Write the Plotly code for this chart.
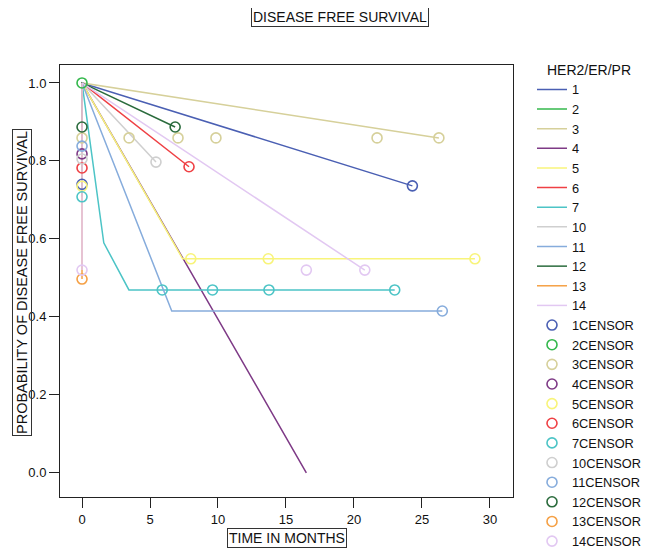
import plotly.graph_objects as go

groups = ["1", "2", "3", "4", "5", "6", "7", "10", "11", "12", "13", "14"]
colors = ["#4a5fb3", "#34b84c", "#d6d09a", "#7e3a86", "#f8f47a", "#ef4044",
          "#4cc4c6", "#cfcfcf", "#86acdc", "#2a6b3c", "#f5a045", "#e2c8f2"]

# survival lines (x = months, y = probability)
line_x = {
    "1": [0, 0, 24.3],
    "2": [0],
    "3": [0, 0, 26.25],
    "4": [0, 0, 16.5],
    "5": [0, 0, 7.4, 28.9],
    "6": [0, 0, 7.87],
    "7": [0, 0, 1.6, 3.45, 23.0],
    "10": [0, 0, 5.44],
    "11": [0, 0, 6.6, 26.5],
    "12": [0, 0, 6.85],
    "13": [0, 0],
    "14": [0, 0, 20.8],
}
line_y = {
    "1": [0.736, 1.0, 0.736],
    "2": [1.0],
    "3": [0.859, 1.0, 0.859],
    "4": [0.818, 1.0, 0.0],
    "5": [0.735, 1.0, 0.549, 0.549],
    "6": [0.782, 1.0, 0.785],
    "7": [0.708, 1.0, 0.59, 0.469, 0.469],
    "10": [0.805, 1.0, 0.797],
    "11": [0.838, 1.0, 0.415, 0.415],
    "12": [0.887, 1.0, 0.887],
    "13": [0.497, 1.0],
    "14": [0.52, 1.0, 0.52],
}

# censored observations
cens_x = {
    "1": [0, 24.3],
    "2": [0],
    "3": [0, 3.46, 7.06, 9.85, 21.7, 26.25],
    "4": [0],
    "5": [0, 8.0, 13.7, 28.9],
    "6": [0, 7.87],
    "7": [0, 5.9, 9.6, 13.75, 23.0],
    "10": [0, 5.44],
    "11": [0, 26.5],
    "12": [0, 6.85],
    "13": [0],
    "14": [0, 16.5, 20.8],
}
cens_y = {
    "1": [0.74, 0.736],
    "2": [1.0],
    "3": [0.859, 0.859, 0.859, 0.859, 0.859, 0.859],
    "4": [0.818],
    "5": [0.735, 0.549, 0.549, 0.549],
    "6": [0.782, 0.785],
    "7": [0.708, 0.469, 0.469, 0.469, 0.469],
    "10": [0.805, 0.797],
    "11": [0.838, 0.415],
    "12": [0.887, 0.887],
    "13": [0.497],
    "14": [0.52, 0.52, 0.52],
}

x_ticks = [0, 5, 10, 15, 20, 25, 30]
y_ticks = [0.0, 0.2, 0.4, 0.6, 0.8, 1.0]

FONT = "Liberation Sans, Arial, sans-serif"

fig = go.Figure()
for g, c in zip(groups, colors):
    fig.add_trace(go.Scatter(
        x=line_x[g], y=line_y[g], mode="lines", name=g,
        line=dict(color=c, width=1.5), legendgroup="lines",
    ))
for g, c in zip(groups, colors):
    fig.add_trace(go.Scatter(
        x=cens_x[g], y=cens_y[g], mode="markers", name=g + "CENSOR",
        marker=dict(symbol="circle-open", size=10, color=c, line=dict(width=1.6, color=c)),
        legendgroup="cens",
    ))

# page body adds an 8px offset; plot area on screen: x 60..513, y 65..497
PW, PH = 453.0, 432.0
fig.update_layout(
    width=650, height=544,
    margin=dict(l=52, r=145, t=57, b=55, autoexpand=False),
    paper_bgcolor="white", plot_bgcolor="white",
    font=dict(family=FONT, size=13, color="#111111"),
    showlegend=True,
    legend=dict(
        x=1 + (532 - 513) / PW, y=1.02, xanchor="left", yanchor="top",
        title=dict(text="HER2/ER/PR", font=dict(size=14), side="top center"),
        tracegroupgap=0, itemwidth=30, maxheight=1.0,
        font=dict(size=12.8), bgcolor="rgba(0,0,0,0)",
    ),
    annotations=[
        dict(text="DISEASE FREE SURVIVAL", x=(340 - 60) / PW, y=1 + (65 - 17) / PH,
             xref="paper", yref="paper", xanchor="center", yanchor="middle",
             showarrow=False, bordercolor="#333333", borderwidth=1, borderpad=1,
             font=dict(size=14)),
        dict(text="TIME IN MONTHS", x=(287 - 60) / PW, y=-(538 - 497) / PH,
             xref="paper", yref="paper", xanchor="center", yanchor="middle",
             showarrow=False, bordercolor="#333333", borderwidth=1, borderpad=1,
             font=dict(size=14)),
        dict(text="PROBABILITY OF DISEASE FREE SURVIVAL", x=-(60 - 22) / PW,
             y=(497 - 283) / PH, xref="paper", yref="paper",
             xanchor="center", yanchor="middle", textangle=-90, showarrow=False,
             bordercolor="#333333", borderwidth=1, borderpad=1, font=dict(size=14.5)),
    ],
)

fig.update_xaxes(
    range=[-1.62, 31.7], tickvals=x_ticks, ticktext=[str(v) for v in x_ticks],
    showgrid=False, zeroline=False, showline=True, linecolor="#222222", linewidth=1,
    mirror=True, ticks="outside", ticklen=10, tickcolor="#222222",
    tickfont=dict(size=13),
)
fig.update_yaxes(
    range=[-0.062, 1.046], tickvals=y_ticks, ticktext=["%.1f" % v for v in y_ticks],
    showgrid=False, zeroline=False, showline=True, linecolor="#222222", linewidth=1,
    mirror=True, ticks="outside", ticklen=10, tickcolor="#222222",
    tickfont=dict(size=13),
)

fig.write_html("out.html")
